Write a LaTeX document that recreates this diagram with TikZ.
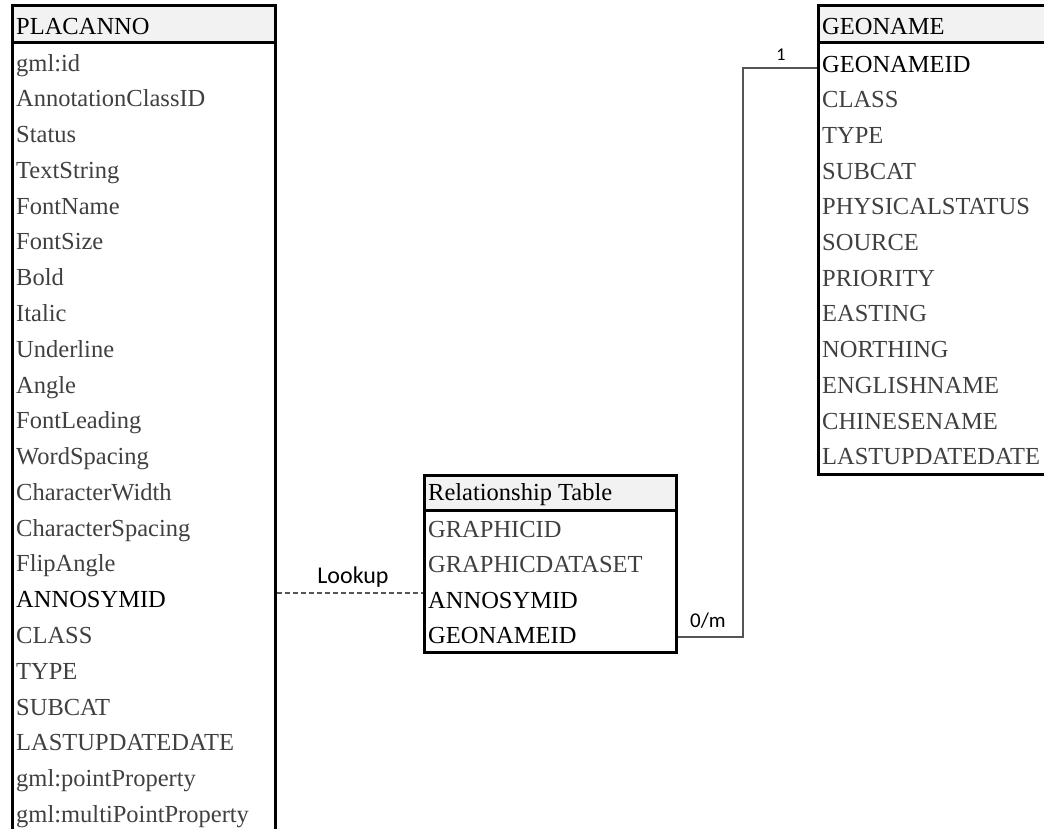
\documentclass[tikz,border=0pt]{standalone}
\usepackage{fontspec}
\setmainfont{Liberation Serif}
\newfontfamily\carlitofont{Carlito}
\definecolor{hdrgray}{HTML}{F2F2F2}
\definecolor{fldgray}{HTML}{404040}
\definecolor{linegray}{HTML}{555555}
\begin{document}
\begin{tikzpicture}[x=1pt,y=-1pt,
  tbl/.style={draw=black,line width=3pt,anchor=north west,inner sep=0pt},
  hdr/.style={tbl,fill=hdrgray},
  fld/.style={anchor=base west,inner sep=0pt,text=fldgray,font=\fontsize{24.5}{28}\selectfont},
  key/.style={fld,text=black},
  conn/.style={draw=linegray,line width=1.3pt},
  lbl/.style={inner sep=0pt,text=black}]
\useasboundingbox (0,0) rectangle (1044,828);
\clip (0,0) rectangle (1044,828);
\fill[white] (0,0) rectangle (1044,828);

% PLACANNO
\node[tbl,minimum width=263pt,minimum height=830pt] (plb) at (11,41) {};
\node[hdr,minimum width=263pt,minimum height=37pt] (plh) at (11,4) {};
\node[key] (plt) at (16,34) {PLACANNO};
\foreach \t/\s [count=\i] in {gml:id/fld,AnnotationClassID/fld,Status/fld,TextString/fld,FontName/fld,FontSize/fld,Bold/fld,Italic/fld,Underline/fld,Angle/fld,FontLeading/fld,WordSpacing/fld,CharacterWidth/fld,CharacterSpacing/fld,FlipAngle/fld,ANNOSYMID/key,CLASS/fld,TYPE/fld,SUBCAT/fld,LASTUPDATEDATE/fld,gml:pointProperty/fld,gml:multiPointProperty/fld}
  \node[\s] (pl\i) at (16,{71+(\i-1)*35.78}) {\t};

% Relationship Table
\node[tbl,minimum width=252pt,minimum height=142pt] (rtb) at (423,509) {};
\node[hdr,minimum width=252pt,minimum height=35pt] (rth) at (423,474) {};
\node[key] (rtt) at (428,500) {Relationship Table};
\foreach \t/\s [count=\i] in {GRAPHICID/fld,GRAPHICDATASET/fld,ANNOSYMID/key,GEONAMEID/key}
  \node[\s] (rt\i) at (428,{537+(\i-1)*35.5}) {\t};

% GEONAME
\node[tbl,minimum width=300pt,minimum height=432pt] (gnb) at (817,41) {};
\node[hdr,minimum width=300pt,minimum height=37pt] (gnh) at (817,4) {};
\node[key] (gnt) at (822,34) {GEONAME};
\foreach \t/\s [count=\i] in {GEONAMEID/key,CLASS/fld,TYPE/fld,SUBCAT/fld,PHYSICALSTATUS/fld,SOURCE/fld,PRIORITY/fld,EASTING/fld,NORTHING/fld,ENGLISHNAME/fld,CHINESENAME/fld,LASTUPDATEDATE/fld}
  \node[\s] (gn\i) at (822,{72+(\i-1)*35.7}) {\t};

% connectors
\draw[conn,dashed,dash pattern=on 5pt off 3pt] (plb.east |- 0,593) -- (rtb.west |- 0,593);
\coordinate (b1) at (743,637);
\coordinate (b2) at (743,68);
\draw[conn] (rtb.east |- b1) -- (b1) -- (b2) -- (gnb.west |- b2);

% labels
\node[lbl,font=\carlitofont\fontsize{24}{28}\selectfont] (lk) at (353,577) {Lookup};
\node[lbl,font=\carlitofont\fontsize{21}{24}\selectfont] (om) at (708,621) {0/m};
\node[lbl,font=\carlitofont\fontsize{18}{20}\selectfont] (one) at (781,55) {1};
\end{tikzpicture}
\end{document}
